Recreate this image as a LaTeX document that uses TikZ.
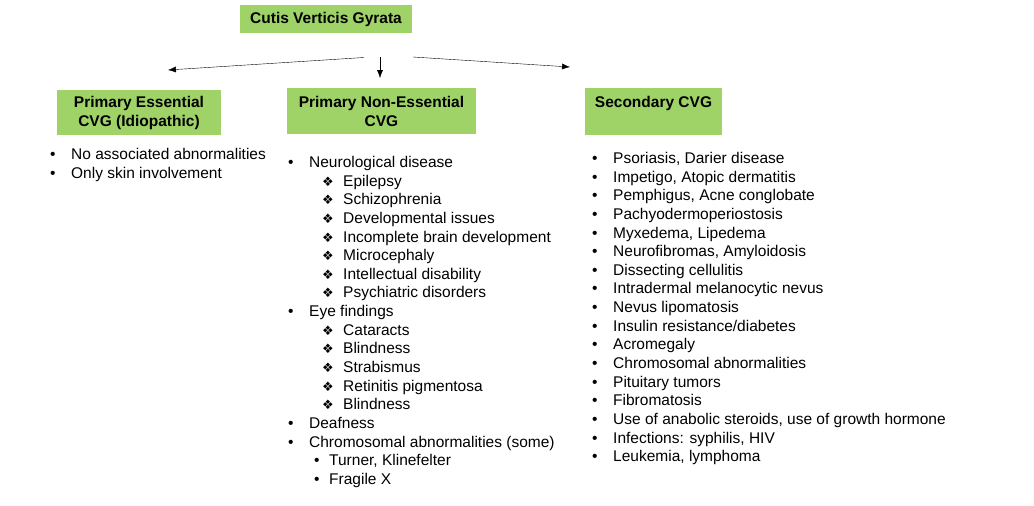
\documentclass[tikz,border=0pt]{standalone}
\usepackage{fontspec}
\setmainfont{Liberation Sans}
\newfontfamily\symfont{DejaVu Sans}
\usepackage{tikz}
\usetikzlibrary{arrows.meta}

\definecolor{cvggreen}{RGB}{159,211,104}

% list lines
\newcommand{\lvlone}[1]{\makebox[21pt][l]{•}#1}
\newcommand{\lvltwo}[1]{\hspace*{34pt}\makebox[21pt][l]{{\symfont\fontsize{13}{13}\selectfont ❖}}#1}
\newcommand{\lvlthree}[1]{\hspace*{26pt}\makebox[15pt][l]{•}#1}

\begin{document}
\begin{tikzpicture}[x=1pt,y=-1pt]

		% Define styles
		\tikzstyle{head} = [
		rectangle, fill=cvggreen, inner sep=0pt, align=center,
		font=\fontsize{15.5}{19}\selectfont\bfseries]
		\tikzstyle{list} = [
		anchor=north west, inner sep=0pt, align=left,
		font=\fontsize{15.5}{18.65}\selectfont]
		\tikzstyle{arrow} = [thin,-{Latex[length=8pt,width=6pt]}]

		\useasboundingbox (0,0) rectangle (1034,506);

		% Nodes
		\node (cvg) [head, minimum width=172pt, minimum height=28pt] at (326,19) {Cutis Verticis Gyrata};

		\node (essential) [head, minimum width=164pt, minimum height=45pt] at (139,112.5) {
			Primary Essential \\
			CVG (Idiopathic)
		};

		\node (nonessential) [head, minimum width=189pt, minimum height=46pt] at (381.5,111) {
			Primary Non-Essential \\
			CVG
		};

		\node (secondary) [head, minimum width=137pt, minimum height=47pt] at (653.5,111.5) {
			Secondary CVG \\
			\phantom{X}
		};

		% Lists
		\node (essentiallist) [list] at (50,148) {
			\lvlone{No associated abnormalities} \\
			\lvlone{Only skin involvement}
		};

		\node (nonessentiallist) [list] at (288,156) {
			\lvlone{Neurological disease} \\
			\lvltwo{Epilepsy} \\
			\lvltwo{Schizophrenia} \\
			\lvltwo{Developmental issues} \\
			\lvltwo{Incomplete brain development} \\
			\lvltwo{Microcephaly} \\
			\lvltwo{Intellectual disability} \\
			\lvltwo{Psychiatric disorders} \\
			\lvlone{Eye findings} \\
			\lvltwo{Cataracts} \\
			\lvltwo{Blindness} \\
			\lvltwo{Strabismus} \\
			\lvltwo{Retinitis pigmentosa} \\
			\lvltwo{Blindness} \\
			\lvlone{Deafness} \\
			\lvlone{Chromosomal abnormalities (some)} \\
			\lvlthree{Turner, Klinefelter} \\
			\lvlthree{Fragile X}
		};

		\node (secondarylist) [list] at (592,152) {
			\lvlone{Psoriasis, Darier disease} \\
			\lvlone{Impetigo, Atopic dermatitis} \\
			\lvlone{Pemphigus, Acne conglobate} \\
			\lvlone{Pachyodermoperiostosis} \\
			\lvlone{Myxedema, Lipedema} \\
			\lvlone{Neurofibromas, Amyloidosis} \\
			\lvlone{Dissecting cellulitis} \\
			\lvlone{Intradermal melanocytic nevus} \\
			\lvlone{Nevus lipomatosis} \\
			\lvlone{Insulin resistance/diabetes} \\
			\lvlone{Acromegaly} \\
			\lvlone{Chromosomal abnormalities} \\
			\lvlone{Pituitary tumors} \\
			\lvlone{Fibromatosis} \\
			\lvlone{Use of anabolic steroids, use of growth hormone} \\
			\lvlone{Infections: syphilis, HIV} \\
			\lvlone{Leukemia, lymphoma}
		};

		% Arrows
		\coordinate (leftstart) at (364,57.5);
		\coordinate (leftend) at (168,70);
		\coordinate (midstart) at (380,57);
		\coordinate (midend) at (380,78);
		\coordinate (rightstart) at (413,57);
		\coordinate (rightend) at (570,67);

		\draw [arrow] (leftstart) -- (leftend);
		\draw [arrow] (midstart) -- (midend);
		\draw [arrow] (rightstart) -- (rightend);
	\end{tikzpicture}
\end{document}
